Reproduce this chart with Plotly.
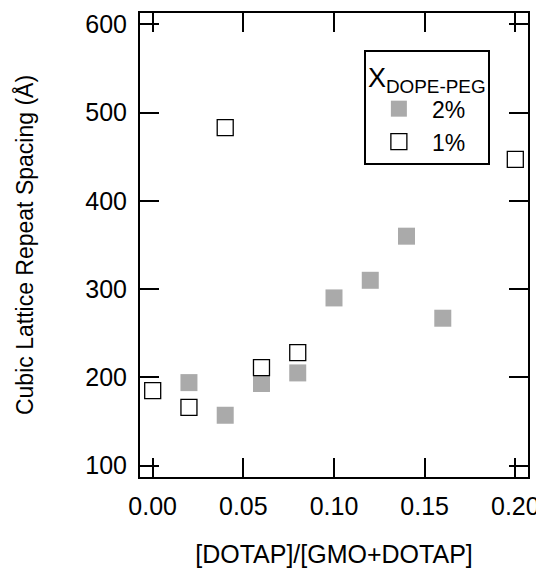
import plotly.graph_objects as go

x_2pct = [0.02, 0.04, 0.06, 0.08, 0.10, 0.12, 0.14, 0.16]
y_2pct = [194, 157, 193, 205, 290, 310, 360, 267]
x_1pct = [0.00, 0.02, 0.04, 0.06, 0.08, 0.20]
y_1pct = [185, 166, 483, 211, 228, 447]

x_ticks = [0.00, 0.05, 0.10, 0.15, 0.20]
x_ticklabels = ["0.00", "0.05", "0.10", "0.15", "0.20"]
y_ticks = [100, 200, 300, 400, 500, 600]

FONT = "Liberation Sans, Arial, sans-serif"

fig = go.Figure()
fig.add_trace(go.Scatter(
    x=x_2pct, y=y_2pct, mode="markers", name="2%",
    marker=dict(symbol="square", size=17, color="#aaaaaa", line=dict(width=0)),
))
fig.add_trace(go.Scatter(
    x=x_1pct, y=y_1pct, mode="markers", name="1%",
    marker=dict(symbol="square", size=16, color="white", line=dict(width=1.3, color="black")),
))

axis_common = dict(
    showline=True, linecolor="black", linewidth=2, mirror="allticks",
    ticks="inside", ticklen=19, tickwidth=2, tickcolor="black",
    showgrid=False, zeroline=False, automargin=False,
    tickfont=dict(family=FONT, size=25, color="black"),
)

# the page body adds an 8px margin, so the figure is sized to fit 544x573
fig.update_layout(
    width=536, height=565,
    margin=dict(l=132, r=16, t=5, b=96),
    plot_bgcolor="white", paper_bgcolor="white",
    font=dict(family=FONT, color="black"),
    xaxis=dict(range=[-0.007, 0.207], tickvals=x_ticks, ticktext=x_ticklabels,
               ticklabelstandoff=6,
               title=dict(text="[DOTAP]/[GMO+DOTAP]", font=dict(family=FONT, size=25), standoff=26),
               **axis_common),
    yaxis=dict(range=[87, 613], tickvals=y_ticks, ticklabelstandoff=6,
               title=dict(text="Cubic Lattice Repeat Spacing (Å)", font=dict(family=FONT, size=23), standoff=45),
               **axis_common),
    legend=dict(
        x=0.577, y=0.92, xanchor="left", yanchor="top",
        bordercolor="black", borderwidth=2, bgcolor="white",
        font=dict(family=FONT, size=23, color="black"),
        title=dict(text="X<sub>DOPE-PEG</sub>", font=dict(family=FONT, size=27)),
        itemsizing="trace", tracegroupgap=0, itemwidth=56,
    ),
    showlegend=True,
)

fig.write_html("out.html")
